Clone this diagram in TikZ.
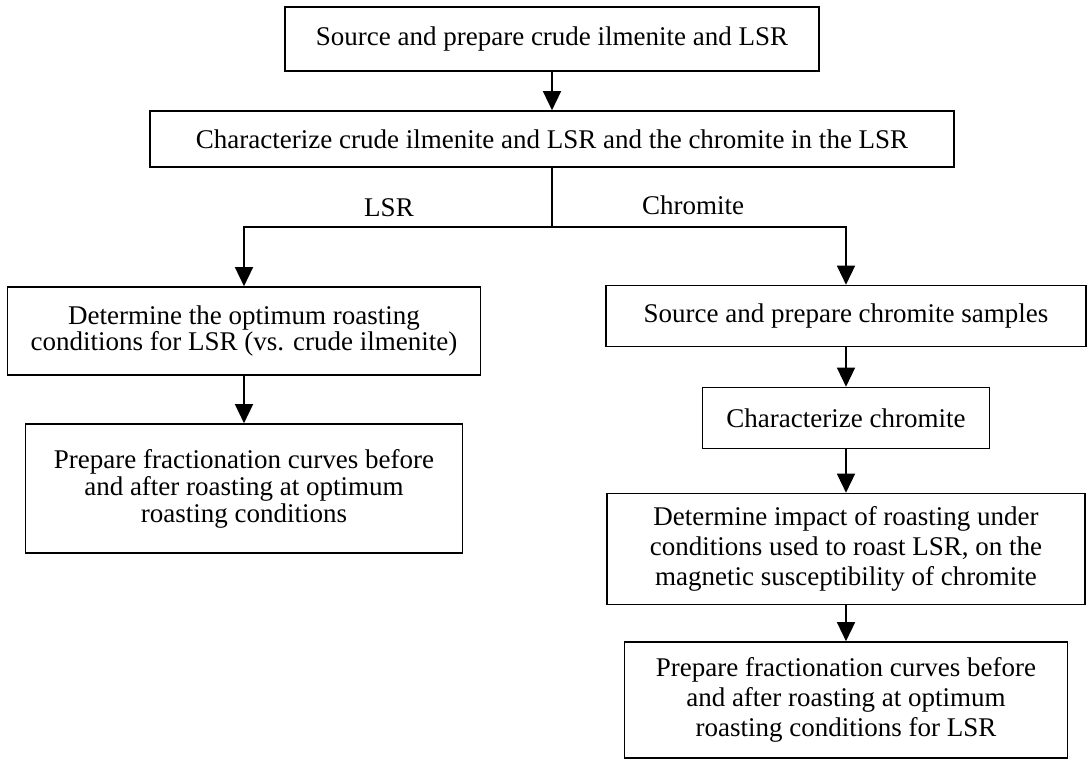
\documentclass[tikz,border=0pt]{standalone}
\usepackage{fontspec}
\setmainfont{Liberation Serif}
\usetikzlibrary{arrows.meta}

\tikzset{
  stage/.style={draw, line width=1.6pt, align=center, inner sep=0pt,
    font=\fontsize{27}{#1}\selectfont},
  stage/.default=30,
  flow/.style={-{Triangle[width=18pt,length=19pt]}, line width=1.4pt},
  tag/.style={anchor=base, font=\fontsize{27}{31}\selectfont}
}

\begin{document}
\begin{tikzpicture}[x=1pt, y=-1pt]
  \useasboundingbox (0,0) rectangle (1088,759);

  % common trunk
  \node[stage, minimum width=534pt, minimum height=64pt] (src) at (552,39)
    {Source and prepare crude ilmenite and LSR};
  \node[stage, minimum width=804pt, minimum height=56pt] (char) at (552,139)
    {Characterize crude ilmenite and LSR and the chromite in the LSR};
  \coordinate (split) at (552,227);

  % LSR branch
  \node[stage=24, minimum width=473pt, minimum height=88pt] (opt) at (244,331)
    {Determine the optimum roasting\\conditions for LSR (vs. crude ilmenite)};
  \node[stage=27, minimum width=437pt, minimum height=129pt] (fracA) at (244,488.5)
    {Prepare fractionation curves before\\and after roasting at optimum\\roasting conditions};

  % chromite branch
  \node[stage, minimum width=480pt, minimum height=61pt] (chsrc) at (846,316)
    {Source and prepare chromite samples};
  \node[stage, minimum width=287pt, minimum height=61pt] (chchar) at (846,418)
    {Characterize chromite};
  \node[stage, minimum width=478pt, minimum height=111pt] (impact) at (846,549)
    {Determine impact of roasting under\\conditions used to roast LSR, on the\\magnetic susceptibility of chromite};
  \node[stage, minimum width=443pt, minimum height=116pt] (fracB) at (846,700)
    {Prepare fractionation curves before\\and after roasting at optimum\\roasting conditions for LSR};

  \node[tag] (lsr) at (389,217) {LSR};
  \node[tag] (chr) at (693,215) {Chromite};

  \draw[flow] (src) -- (char);
  \draw[line width=1.4pt] (char) -- (split);
  \draw[flow] (split) -| (opt);
  \draw[flow] (split) -| (chsrc);
  \draw[flow] (opt) -- (fracA);
  \draw[flow] (chsrc) -- (chchar);
  \draw[flow] (chchar) -- (impact);
  \draw[flow] (impact) -- (fracB);
\end{tikzpicture}
\end{document}
